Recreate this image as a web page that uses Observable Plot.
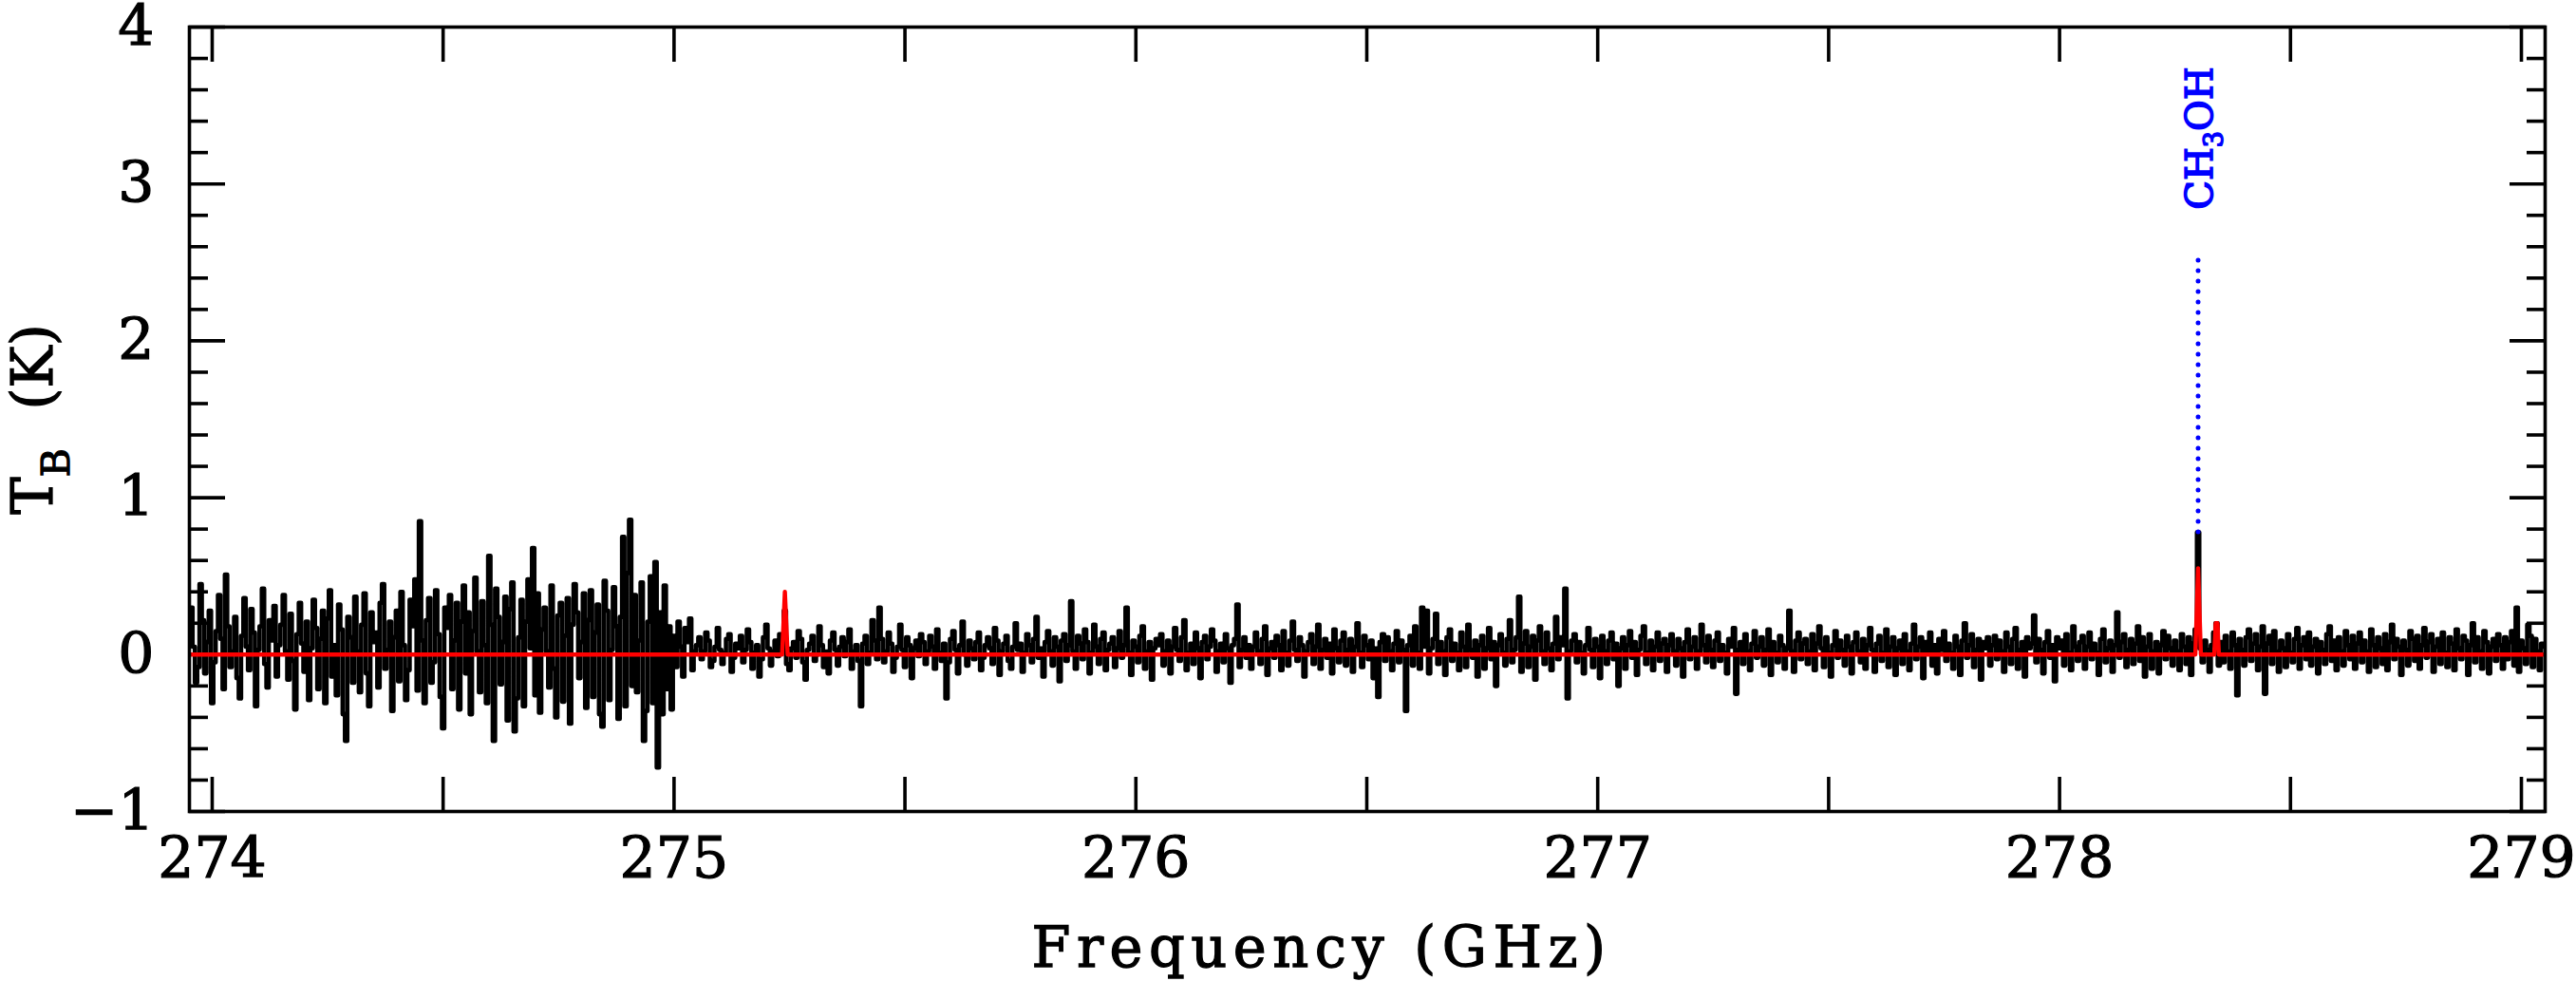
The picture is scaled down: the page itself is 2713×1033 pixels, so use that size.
<!DOCTYPE html>
<html>
<head>
<meta charset="utf-8">
<script src="https://cdn.jsdelivr.net/npm/d3@7"></script>
<script src="https://cdn.jsdelivr.net/npm/@observablehq/plot@0.6"></script>
<style>
  html, body { margin: 0; padding: 0; background: #ffffff; }
  #chart svg { display: block; }
</style>
</head>
<body>
<div id="chart"></div>
<script>
// ---------- data ----------
const freqStart = 273.95;   // GHz, first channel
const freqStep = 0.005;     // GHz per channel

// observed spectrum, 273.95 - 275.045 GHz (noisier part)
const tbLow = [
  0.12,0.30,0.05,-0.18,-0.08,0.45,0.22,-0.12,0.08,0.28,-0.31,-0.05,0.15,0.38,0.10,-0.22,0.51,0.18,-0.08,0.02,
  0.24,-0.15,-0.28,0.12,0.36,0.05,-0.10,0.29,0.14,-0.33,0.03,0.18,0.42,-0.06,-0.21,0.22,0.09,0.31,-0.14,0.06,
  0.19,0.38,0.02,-0.16,0.26,-0.04,-0.35,0.13,0.33,0.07,-0.11,0.21,-0.29,0.04,0.35,0.17,-0.22,0.10,0.28,-0.31,
  0.23,0.41,-0.14,0.06,-0.26,0.32,0.16,-0.38,-0.55,0.24,0.11,-0.18,0.37,0.02,-0.24,0.19,0.39,-0.12,-0.33,0.27,
  0.08,0.14,-0.21,0.33,0.45,-0.09,0.03,0.21,-0.36,0.11,0.28,-0.17,0.40,0.06,-0.29,-0.10,0.35,0.18,0.48,-0.23,
  0.85,0.09,-0.31,0.22,0.36,-0.18,-0.05,0.41,0.13,-0.27,-0.47,0.30,0.17,0.38,-0.22,0.09,0.33,-0.35,0.21,0.44,
  -0.12,0.27,-0.38,0.15,0.49,0.02,-0.24,0.34,0.06,-0.31,0.63,0.19,-0.55,0.42,0.24,-0.19,0.08,0.37,-0.42,0.29,
  0.46,-0.49,-0.28,0.11,0.35,-0.33,0.21,0.48,0.04,0.68,-0.26,0.39,-0.37,0.16,0.30,0.02,-0.21,0.44,-0.09,-0.40,
  0.25,0.33,-0.30,0.12,0.36,-0.44,0.19,0.45,0.27,-0.15,0.08,0.39,-0.34,0.22,0.41,-0.27,0.14,0.32,-0.38,-0.46,
  0.47,0.28,-0.29,0.03,0.43,0.18,-0.41,0.24,0.75,-0.33,0.52,0.86,-0.20,0.38,-0.24,0.09,0.46,-0.55,-0.36,0.21,
  0.50,-0.31,0.59,-0.72,0.27,-0.38,0.44,-0.22,0.18,-0.35,0.12,-0.08,0.21,0.05,-0.14,0.17,0.08,0.23,-0.10,0.02
];

// observed spectrum, 275.05 - 279.05 GHz
const tbHigh = [
  0.06,0.11,-0.03,0.02,0.14,0.09,-0.08,-0.04,0.05,0.17,0.03,-0.06,0.01,0.10,0.13,-0.11,-0.02,0.07,0.04,0.12,
  -0.05,0.03,0.16,0.08,-0.09,0.01,0.06,-0.14,-0.03,0.11,0.19,0.04,-0.07,0.02,0.09,-0.01,0.13,0.05,0.28,-0.06,
  -0.10,0.04,0.08,-0.02,0.15,0.10,-0.05,-0.16,0.03,0.07,0.12,-0.04,0.00,0.18,0.06,-0.08,0.02,-0.12,0.09,0.14,
  0.03,-0.07,0.05,0.11,-0.01,0.08,0.16,-0.09,0.02,0.06,-0.04,-0.33,0.07,0.12,-0.06,0.01,0.22,0.09,-0.03,0.30,
  0.10,-0.05,0.02,0.14,0.07,-0.11,-0.02,0.05,0.19,0.03,-0.08,0.11,0.06,-0.15,0.04,0.09,-0.01,0.13,0.08,-0.06,
  0.02,0.12,0.05,-0.09,0.16,0.01,-0.04,0.07,-0.28,-0.05,0.10,0.15,0.03,-0.12,0.06,0.21,0.00,-0.07,0.09,0.04,
  -0.03,0.08,0.14,-0.10,-0.02,0.06,0.11,0.04,-0.06,0.17,0.09,-0.13,0.02,0.07,0.12,-0.04,-0.09,0.05,0.20,0.03,
  0.07,-0.11,0.01,0.13,0.06,-0.05,0.10,0.24,-0.02,0.04,-0.14,0.08,0.15,0.02,-0.07,0.11,0.05,-0.17,0.09,0.13,
  -0.04,0.06,0.34,0.02,-0.09,0.12,0.07,-0.03,0.16,0.08,-0.12,0.01,0.19,0.05,-0.06,0.10,0.14,-0.10,0.03,0.07,
  0.11,-0.08,0.04,0.15,-0.02,0.06,0.30,0.01,-0.13,0.09,0.05,-0.05,0.12,0.18,-0.09,0.02,0.08,-0.16,0.04,0.10,
  0.06,0.13,-0.07,0.02,0.09,-0.12,0.05,0.17,0.03,-0.04,0.11,0.22,-0.10,0.01,0.07,-0.06,0.14,0.04,-0.15,0.08,
  0.12,-0.03,0.05,0.16,0.09,-0.11,0.02,0.07,-0.05,0.13,0.04,-0.18,0.06,0.10,0.32,-0.08,0.03,0.11,-0.02,0.06,
  -0.09,0.05,0.14,0.02,-0.06,0.10,0.18,-0.13,0.04,0.08,-0.02,0.12,0.06,-0.10,0.15,0.01,-0.07,0.09,0.21,0.03,
  -0.04,0.11,0.06,-0.14,0.02,0.08,0.13,-0.06,0.05,0.19,-0.09,0.03,0.10,-0.02,0.07,-0.12,0.16,0.04,-0.05,0.09,
  0.14,-0.07,0.03,0.10,-0.11,0.05,0.20,0.01,-0.08,0.12,0.06,-0.03,0.09,-0.15,0.04,-0.27,0.08,0.13,-0.04,0.11,
  0.02,-0.10,0.07,0.15,-0.05,0.09,0.03,-0.36,0.06,0.12,-0.07,0.18,0.01,-0.09,0.30,0.05,0.28,-0.12,0.04,0.10,
  0.26,-0.06,0.08,0.02,-0.13,0.11,0.16,-0.04,0.07,0.01,-0.10,0.14,0.05,-0.08,0.19,0.03,-0.02,0.09,-0.14,0.06,
  0.12,-0.09,0.04,0.17,-0.03,0.08,-0.20,0.06,0.13,0.01,-0.07,0.10,0.22,-0.05,0.03,0.11,0.37,-0.11,0.07,0.15,
  -0.08,0.05,0.12,-0.16,0.09,0.18,0.02,-0.06,0.14,0.04,-0.10,0.07,0.24,-0.03,0.11,0.06,0.42,-0.28,0.02,0.09,
  0.13,-0.05,0.08,0.01,-0.12,0.06,0.17,0.03,-0.08,0.10,0.05,-0.15,0.12,0.02,-0.06,0.09,0.14,-0.03,0.07,-0.20,
  0.04,0.11,-0.09,0.06,0.15,-0.02,0.08,-0.13,0.03,0.12,0.18,-0.06,0.01,0.09,-0.10,0.05,0.14,-0.04,0.07,0.10,
  -0.11,0.06,0.13,0.02,-0.07,0.10,0.04,-0.14,0.08,0.16,-0.03,0.05,0.11,-0.09,0.02,0.19,0.06,-0.05,0.12,0.03,
  -0.08,0.09,0.14,-0.04,0.06,0.01,-0.12,0.10,0.05,0.17,-0.25,0.03,0.08,-0.06,0.13,0.02,-0.10,0.07,0.15,-0.02,
  0.05,0.11,-0.07,0.03,0.16,-0.13,0.08,0.01,-0.05,0.12,0.06,-0.09,0.04,0.28,0.02,-0.11,0.09,0.14,-0.03,0.07,
  0.10,-0.06,0.02,0.13,-0.10,0.07,0.18,0.04,-0.08,0.11,0.01,-0.14,0.06,0.15,-0.02,0.09,0.03,-0.07,0.12,0.05,
  -0.12,0.08,0.14,0.02,-0.05,0.10,-0.09,0.06,0.17,0.03,-0.11,0.07,0.12,-0.04,0.01,0.16,-0.08,0.05,0.11,-0.13,
  0.04,0.09,-0.06,0.13,0.02,-0.10,0.07,0.19,-0.03,0.05,0.11,-0.15,0.08,0.01,0.14,-0.07,0.06,-0.12,0.10,0.03,
  0.15,-0.04,0.07,0.01,-0.09,0.12,0.05,-0.13,0.09,0.20,-0.02,0.06,0.13,-0.08,0.03,0.10,-0.16,0.08,0.04,0.11,
  -0.07,0.06,0.12,-0.03,0.09,0.02,-0.11,0.14,0.05,-0.06,0.10,0.17,-0.09,0.03,0.08,-0.14,0.11,0.04,0.07,0.25,
  -0.05,0.10,0.03,-0.12,0.08,0.15,-0.02,0.06,-0.17,0.11,0.04,0.09,-0.07,0.13,0.01,-0.10,0.18,0.05,-0.04,0.08,
  0.12,-0.09,0.05,0.14,-0.03,0.07,0.01,-0.13,0.10,0.16,-0.05,0.04,0.09,-0.11,0.06,0.27,-0.02,0.08,0.13,-0.08,
  0.03,0.10,-0.06,0.07,0.18,-0.04,0.11,-0.14,0.05,0.13,-0.09,0.02,0.08,-0.12,0.06,0.15,-0.03,0.12,0.04,-0.07,
  0.09,0.02,-0.10,0.13,0.05,-0.06,0.11,-0.13,0.07,0.16,0.78,0.04,-0.05,0.09,0.03,-0.11,0.06,0.14,0.20,-0.07,
  0.08,-0.05,0.12,0.02,-0.09,0.14,0.06,-0.26,0.10,0.03,-0.07,0.11,0.16,-0.04,0.07,0.13,-0.10,0.05,0.18,-0.25,
  0.07,0.12,-0.06,0.15,0.02,-0.11,0.09,0.04,-0.08,0.13,0.01,-0.05,0.10,0.17,-0.09,0.06,0.11,-0.03,0.14,-0.07,
  0.05,0.10,-0.12,0.08,0.03,-0.06,0.13,0.18,-0.04,0.09,-0.10,0.11,0.02,-0.07,0.15,0.06,-0.03,0.12,-0.09,0.07,
  0.14,-0.05,0.09,0.02,-0.11,0.16,0.06,-0.08,0.11,0.04,-0.06,0.13,-0.10,0.08,0.19,-0.03,0.10,0.05,-0.13,0.09,
  0.03,-0.07,0.15,0.10,-0.04,0.12,-0.09,0.06,0.17,-0.02,0.08,0.13,-0.11,0.05,0.10,-0.06,0.14,0.01,-0.08,0.11,
  0.07,-0.10,0.16,0.04,-0.03,0.12,0.09,-0.13,0.06,0.20,-0.05,0.11,0.02,-0.09,0.15,0.08,-0.12,0.05,0.10,-0.04,
  0.13,0.06,-0.09,0.11,-0.03,0.08,0.15,-0.07,0.30,-0.11,0.09,0.04,-0.06,0.19,0.12,-0.08,0.10,0.02,-0.10,0.07,
  0.05
];

// model spectrum (red)
const modelFreq = [273.95, 275.234, 275.240, 275.246, 278.294, 278.300, 278.306, 278.335, 278.338, 278.342, 278.345, 279.06];
const modelTb   = [0, 0, 0.40, 0, 0, 0.55, 0, 0, 0.20, 0.20, 0, 0];

// line identification
const lineNames = ["CH3OH"];
const lineFreqs = [278.30];
const linePeaks = [0.78];
const lineMarkTop = [2.57];

// axes
const xDomain = [273.9507, 279.0514];
const yDomain = [-1, 4];
const xTicks = [274, 274.5, 275, 275.5, 276, 276.5, 277, 277.5, 278, 278.5, 279];
const xTickLabels = [274, 275, 276, 277, 278, 279];
const yMajorTicks = [-1, 0, 1, 2, 3, 4];
const yMinorTicks = [-0.8, -0.6, -0.4, -0.2, 0.2, 0.4, 0.6, 0.8, 1.2, 1.4, 1.6, 1.8, 2.2, 2.4, 2.6, 2.8, 3.2, 3.4, 3.6, 3.8];
const xLabel = "Frequency (GHz)";
const yLabelMain = "T";
const yLabelSub = "B";
const yLabelUnit = "(K)";

// ---------- tables ----------
const tb = tbLow.concat(tbHigh);
const spectrum = tb.map((v, i) => ({freq: freqStart + i * freqStep, tb: v}));
const model = modelFreq.map((f, i) => ({freq: f, tb: modelTb[i]}));
const lines = lineNames.map((n, i) => ({name: n, freq: lineFreqs[i], peak: linePeaks[i], top: lineMarkTop[i]}));
const yLabelFull = yLabelMain + yLabelSub + " " + yLabelUnit;

const FONT = "DejaVu Serif";
const W = 3.6;
const intFmt = d3.format("d");

const chart = Plot.plot({
  width: 2713,
  height: 1033,
  marginLeft: 199,
  marginRight: 33,
  marginTop: 28,
  marginBottom: 179,
  style: {fontFamily: FONT, background: "#ffffff", color: "#000000"},
  x: {domain: xDomain},
  y: {domain: yDomain},
  marks: [
    // x ticks (inward) top and bottom
    Plot.axisX(xTicks, {anchor: "bottom", tickSize: -36, strokeWidth: W, tickFormat: () => "", label: null}),
    Plot.axisX(xTicks, {anchor: "top", tickSize: -36, strokeWidth: W, tickFormat: () => "", label: null}),
    // y ticks (inward) left and right
    Plot.axisY(yMajorTicks, {anchor: "left", tickSize: -38, strokeWidth: W, tickFormat: () => "", label: null}),
    Plot.axisY(yMajorTicks, {anchor: "right", tickSize: -38, strokeWidth: W, tickFormat: () => "", label: null}),
    Plot.axisY(yMinorTicks, {anchor: "left", tickSize: -20, strokeWidth: W, tickFormat: () => "", label: null}),
    Plot.axisY(yMinorTicks, {anchor: "right", tickSize: -20, strokeWidth: W, tickFormat: () => "", label: null}),
    // spectrum
    Plot.lineY(spectrum, {x: "freq", y: "tb", curve: "step", stroke: "#000000", strokeWidth: 4.6, clip: true}),
    // model
    Plot.line(model, {x: "freq", y: "tb", stroke: "#ff0000", strokeWidth: 4.4, clip: true}),
    // line marker
    Plot.ruleX(lines, {x: "freq", y1: "peak", y2: "top", stroke: "#0000ff", strokeWidth: 5, strokeDasharray: "0,11", strokeLinecap: "round"}),
    Plot.text(lines, {x: "freq", text: "name", frameAnchor: "top", dy: 117, dx: 15, rotate: -90, textAnchor: "middle", lineAnchor: "bottom", fill: "#0000ff", fontSize: 40}),
    // frame
    Plot.frame({stroke: "#000000", strokeWidth: W}),
    // tick labels
    Plot.axisX(xTickLabels, {anchor: "bottom", tickSize: 0, tickPadding: 27, fontSize: 60, tickFormat: intFmt, label: null}),
    Plot.axisY(yMajorTicks, {anchor: "left", tickSize: 0, tickPadding: 37, fontSize: 60, tickFormat: intFmt, label: null}),
    // axis titles
    Plot.text([xLabel], {frameAnchor: "bottom", dy: 163, dx: -48, lineAnchor: "bottom", fontSize: 59, fill: "#000000"}),
    Plot.text([yLabelFull], {frameAnchor: "left", dx: -145, rotate: -90, textAnchor: "middle", lineAnchor: "bottom", fontSize: 59, fill: "#000000"})
  ]
});

// subscripts, heavier strokes and letter spacing
d3.select(chart).selectAll("text").each(function () {
  const t = this.textContent;
  const el = d3.select(this);
  if (t === "") return;
  if (t === yLabelFull) {
    el.text(null);
    el.append("tspan").text(yLabelMain);
    el.append("tspan").attr("font-size", 41).attr("dy", 18).text(yLabelSub);
    el.append("tspan").attr("dy", -18).attr("dx", 22).text(" " + yLabelUnit);
    el.attr("stroke", "#000000").attr("stroke-width", 1.3);
  } else if (t === lineNames[0]) {
    el.text(null);
    el.append("tspan").text("CH");
    el.append("tspan").attr("font-size", 27).attr("dy", 11).text("3");
    el.append("tspan").attr("dy", -11).text("OH");
    el.attr("stroke", "#0000ff").attr("stroke-width", 1.6);
  } else if (t === xLabel) {
    el.style("letter-spacing", "6.5px");
    el.attr("stroke", "#000000").attr("stroke-width", 1.3);
  } else {
    el.attr("stroke", "#000000").attr("stroke-width", 1.2);
  }
});

document.getElementById("chart").appendChild(chart);
</script>
</body>
</html>
